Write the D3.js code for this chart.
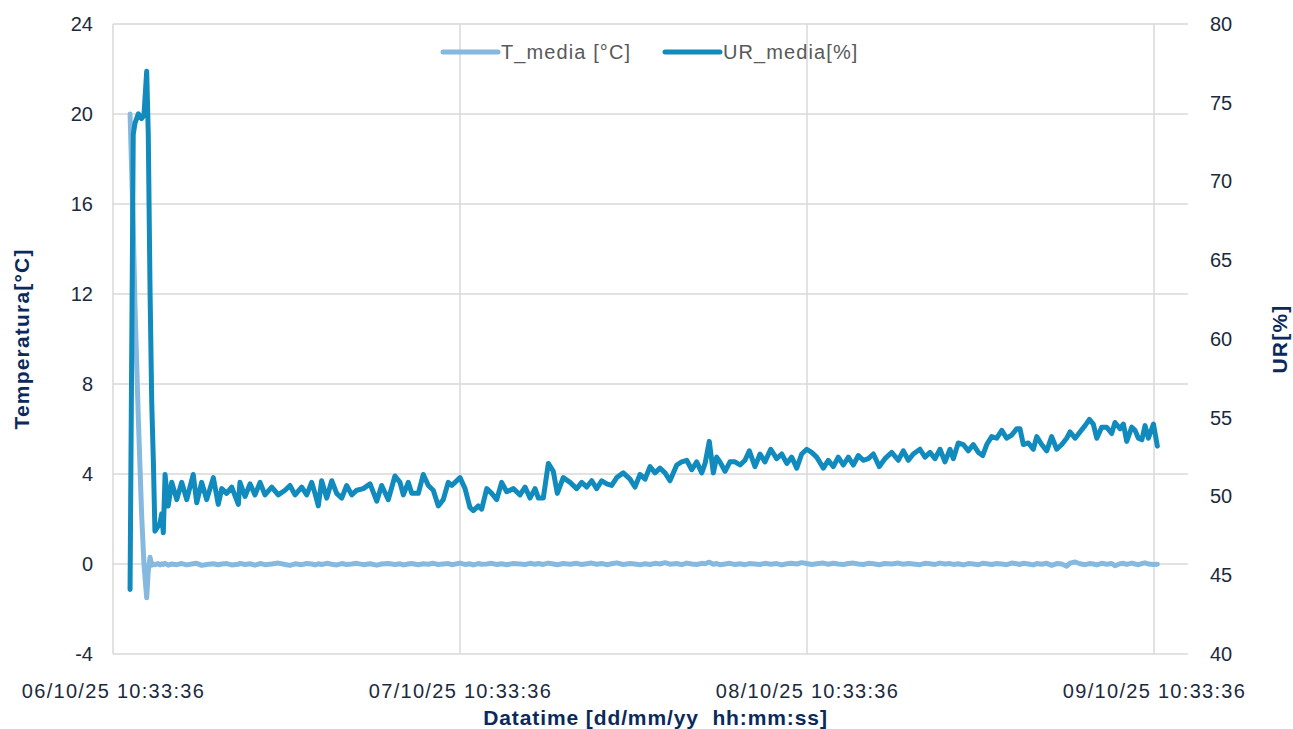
<!DOCTYPE html>
<html>
<head>
<meta charset="utf-8">
<script src="https://cdn.jsdelivr.net/npm/d3@7"></script>
<style>
  body { margin: 0; background: #fff; }
  svg { display: block; font-family: "Liberation Sans", Arial, sans-serif; }
</style>
</head>
<body>
<svg id="chart"></svg>
<script>
// start of the axis and sample times (hours after start)
const startTime = new Date(2025, 9, 6, 10, 33, 36);
const axisEndHours = 74.35;

const hours = [
  1.18,1.40,1.52,1.75,1.98,2.14,2.33,2.44,2.56,2.68,
  2.79,2.90,3.11,3.25,3.37,3.48,3.60,3.82,4.06,4.41,
  4.75,5.10,5.55,5.79,6.13,6.48,6.94,7.28,7.52,7.86,
  8.21,8.67,8.78,9.13,9.48,9.82,10.17,10.51,10.98,11.43,
  11.90,12.24,12.59,13.05,13.40,13.74,13.97,14.20,14.43,14.78,
  15.13,15.47,15.82,16.16,16.51,16.86,17.31,17.78,18.24,18.58,
  19.04,19.50,19.85,20.08,20.42,20.66,21.12,21.46,21.81,22.15,
  22.50,22.84,23.19,23.43,24.00,24.35,24.69,24.92,25.27,25.50,
  25.85,26.19,26.54,26.88,27.23,27.69,28.15,28.50,28.84,29.19,
  29.42,29.76,30.11,30.45,30.73,31.14,31.61,32.07,32.42,32.76,
  33.11,33.45,33.80,34.15,34.49,34.84,35.29,35.76,36.10,36.45,
  36.80,37.14,37.49,37.83,38.18,38.52,38.99,39.33,39.68,40.03,
  40.37,40.72,40.95,41.24,41.52,41.75,41.98,42.33,42.67,43.02,
  43.37,43.71,44.01,44.40,44.75,45.09,45.49,45.90,46.25,46.60,
  46.94,47.29,47.63,47.98,48.32,48.67,49.13,49.47,49.82,50.16,
  50.51,50.86,51.20,51.55,51.89,52.24,52.59,53.00,53.39,53.86,
  54.31,54.66,55.01,55.35,55.81,56.16,56.51,56.85,57.20,57.54,
  57.89,58.12,58.46,58.81,59.16,59.50,59.85,60.15,60.43,60.77,
  61.12,61.47,61.81,62.16,62.50,62.73,62.96,63.31,63.65,63.89,
  64.23,64.58,64.92,65.27,65.62,65.96,66.19,66.54,66.88,67.23,
  67.53,67.80,68.04,68.38,68.73,69.07,69.30,69.65,69.88,70.11,
  70.46,70.69,70.92,71.16,71.38,71.61,71.96,72.23
];

const tMedia = [
  20.0,15.0,11.5,6.5,2.2,0.0,-1.5,-0.3,0.3,-0.05,
  0.0,-0.03,0.02,-0.04,0.01,-0.02,0.03,-0.05,0.0,-0.03,
  0.02,-0.04,0.01,0.03,-0.06,-0.02,0.01,-0.03,0.0,0.02,
  -0.04,-0.01,0.03,-0.02,0.01,-0.05,0.02,-0.03,0.0,0.04,
  -0.02,-0.06,0.01,-0.03,0.02,0.0,-0.04,0.01,-0.02,0.03,
  -0.01,-0.04,0.02,-0.02,0.0,0.03,-0.03,0.01,-0.05,0.0,
  0.02,-0.02,0.01,-0.04,0.0,0.02,-0.03,0.01,-0.01,0.03,
  -0.02,0.0,0.02,-0.03,0.04,-0.02,0.01,-0.04,0.02,-0.01,
  0.0,0.03,-0.02,0.01,-0.03,0.02,0.0,-0.02,0.03,-0.01,
  0.02,-0.02,0.04,0.0,-0.03,0.02,-0.01,0.03,-0.02,0.01,
  0.04,-0.01,0.02,-0.03,0.01,0.05,-0.02,0.02,0.0,-0.03,
  0.01,-0.02,0.03,0.0,0.06,-0.01,0.02,-0.03,0.04,0.0,
  -0.02,0.03,0.01,0.08,-0.01,0.02,-0.03,0.0,0.03,-0.02,
  0.01,-0.03,0.02,0.0,-0.02,0.03,-0.01,0.02,-0.04,0.01,
  0.03,0.0,0.06,0.02,-0.02,0.01,0.04,-0.01,0.03,0.0,
  -0.02,0.02,0.04,0.0,-0.02,0.03,0.01,-0.03,0.02,0.0,
  0.04,-0.01,0.02,0.0,-0.03,0.03,0.01,-0.02,0.04,0.0,
  0.02,-0.02,0.01,-0.04,0.02,0.0,-0.03,0.03,0.01,-0.02,
  0.02,0.0,-0.03,0.04,0.01,-0.02,0.03,0.0,-0.04,0.02,
  -0.01,0.03,-0.06,0.02,0.0,-0.1,0.04,0.09,0.01,-0.03,
  0.02,0.0,-0.04,0.03,-0.01,0.02,-0.08,0.01,0.03,-0.02,
  0.04,0.0,-0.03,0.02,0.05,0.0,-0.02,-0.01
];

const urMedia = [
  44.1,73.0,73.7,74.3,74.0,74.2,77.0,73.0,63.2,55.9,
  52.3,47.8,48.1,48.3,48.9,47.7,51.4,49.4,50.9,49.8,
  50.9,49.8,51.4,49.6,50.9,49.8,51.2,49.5,50.5,50.2,
  50.6,49.5,50.9,50.0,50.8,50.1,50.9,50.1,50.6,50.1,
  50.4,50.7,50.1,50.6,50.1,50.9,50.2,49.4,51.0,49.9,
  51.0,50.2,49.9,50.7,50.1,50.4,50.5,50.8,49.7,50.7,
  49.8,51.3,50.9,50.1,50.9,50.2,50.2,51.4,50.7,50.4,
  49.4,49.8,50.9,50.7,51.2,50.5,49.3,49.1,49.4,49.2,
  50.5,50.2,49.8,50.9,50.3,50.5,50.1,50.6,49.9,50.5,
  49.9,49.9,52.1,51.6,50.2,51.2,50.9,50.5,50.9,50.6,
  51.0,50.5,51.0,50.8,50.7,51.2,51.5,51.1,50.6,51.4,
  51.1,51.9,51.5,51.8,51.5,51.0,52.0,52.2,52.3,51.7,
  52.2,51.5,52.1,53.5,51.5,52.5,52.2,51.6,52.2,52.2,
  52.0,52.3,52.9,51.9,52.7,52.2,53.0,52.4,52.7,52.1,
  52.5,51.8,52.7,53.0,52.8,52.5,51.8,52.3,51.9,52.5,
  52.0,52.5,52.0,52.6,52.3,52.4,52.7,51.9,52.4,52.8,
  52.3,52.9,52.3,52.7,53.0,52.5,52.8,52.4,53.0,52.2,
  53.0,52.4,53.4,53.3,52.9,53.3,52.8,52.6,53.3,53.8,
  53.7,54.2,53.7,53.9,54.3,54.3,53.3,53.4,53.0,53.8,
  53.3,52.9,53.8,53.0,53.3,53.7,54.1,53.7,54.1,54.5,
  54.9,54.6,53.7,54.4,54.4,54.0,54.7,54.3,54.6,53.5,
  54.4,54.2,53.7,53.6,54.5,53.7,54.6,53.2
];

const tTicks = [-4, 0, 4, 8, 12, 16, 20, 24];
const urTicks = [40, 45, 50, 55, 60, 65, 70, 75, 80];
const dayTicks = [0, 1, 2, 3];
const seriesNames = ["T_media [°C]", "UR_media[%]"];

const width = 1293, height = 729;
const margin = { top: 24, right: 105, bottom: 75, left: 113 };
const innerW = width - margin.left - margin.right;
const innerH = height - margin.top - margin.bottom;

const colorT = "#86b9e0";
const colorUR = "#118bbd";
const tickColor = "#1c2a3d";
const titleColor = "#0b2a5b";
const gridColor = "#d9d9d9";

const toDate = (h) => new Date(startTime.getTime() + h * 3600 * 1000);

const svg = d3.select("#chart").attr("width", width).attr("height", height);
const g = svg.append("g").attr("transform", `translate(${margin.left},${margin.top})`);

const x = d3.scaleTime().domain([startTime, toDate(axisEndHours)]).range([0, innerW]);
const yT = d3.scaleLinear().domain([-4, 24]).range([innerH, 0]);
const yUR = d3.scaleLinear().domain([40, 80]).range([innerH, 0]);

// horizontal grid
g.append("g")
  .selectAll("line")
  .data(tTicks)
  .join("line")
  .attr("x1", 0).attr("x2", innerW)
  .attr("y1", (d) => yT(d)).attr("y2", (d) => yT(d))
  .attr("stroke", gridColor).attr("stroke-width", 1.5);

// vertical grid on day ticks
const dayDates = dayTicks.map((d) => toDate(d * 24));
g.append("g")
  .selectAll("line")
  .data(dayDates)
  .join("line")
  .attr("x1", (d) => x(d)).attr("x2", (d) => x(d))
  .attr("y1", 0).attr("y2", innerH)
  .attr("stroke", gridColor).attr("stroke-width", 1.5);

// x axis labels
const fmt = d3.timeFormat("%d/%m/%y %H:%M:%S");
const xAxis = g.append("g")
  .attr("transform", `translate(0,${innerH})`)
  .call(d3.axisBottom(x).tickValues(dayDates).tickFormat(fmt).tickSize(0).tickPadding(30));
xAxis.select(".domain").remove();
xAxis.selectAll("text")
  .attr("fill", tickColor)
  .style("font-size", "20px")
  .style("letter-spacing", "1.3px");

// left axis (plain hyphen for negatives)
const yAxisL = g.append("g")
  .call(d3.axisLeft(yT).tickValues(tTicks).tickFormat((d) => String(d)).tickSize(0).tickPadding(20));
yAxisL.select(".domain").remove();
yAxisL.selectAll("text").attr("fill", tickColor).style("font-size", "20px");

// right axis
const yAxisR = g.append("g")
  .attr("transform", `translate(${innerW},0)`)
  .call(d3.axisRight(yUR).tickValues(urTicks).tickSize(0).tickPadding(22));
yAxisR.select(".domain").remove();
yAxisR.selectAll("text").attr("fill", tickColor).style("font-size", "20px");

// lines
const lineT = d3.line()
  .x((d, i) => x(toDate(hours[i])))
  .y((d) => yT(d));
const lineUR = d3.line()
  .x((d, i) => x(toDate(hours[i])))
  .y((d) => yUR(d));

g.append("path")
  .datum(tMedia)
  .attr("d", lineT)
  .attr("fill", "none")
  .attr("stroke", colorT)
  .attr("stroke-width", 5)
  .attr("stroke-linejoin", "round")
  .attr("stroke-linecap", "round");

g.append("path")
  .datum(urMedia)
  .attr("d", lineUR)
  .attr("fill", "none")
  .attr("stroke", colorUR)
  .attr("stroke-width", 5)
  .attr("stroke-linejoin", "round")
  .attr("stroke-linecap", "round");

// axis titles
svg.append("text")
  .attr("transform", `translate(29,${margin.top + innerH / 2}) rotate(-90)`)
  .attr("text-anchor", "middle")
  .attr("fill", titleColor)
  .style("font-size", "21px")
  .style("font-weight", "bold")
  .style("letter-spacing", "1.2px")
  .text("Temperatura[°C]");

svg.append("text")
  .attr("transform", `translate(1287,${margin.top + innerH / 2}) rotate(-90)`)
  .attr("text-anchor", "middle")
  .attr("fill", titleColor)
  .style("font-size", "21px")
  .style("font-weight", "bold")
  .style("letter-spacing", "1.2px")
  .text("UR[%]");

svg.append("text")
  .attr("x", margin.left + innerW / 2 + 5)
  .attr("y", 725)
  .attr("text-anchor", "middle")
  .attr("fill", titleColor)
  .style("font-size", "21px")
  .style("font-weight", "bold")
  .style("white-space", "pre")
  .style("letter-spacing", "0.9px")
  .text("Datatime [dd/mm/yy  hh:mm:ss]");

// legend
const legend = svg.append("g").attr("transform", "translate(443,52)");
const legendX = [0, 222];
const legendColors = [colorT, colorUR];
seriesNames.forEach((name, i) => {
  const item = legend.append("g").attr("transform", `translate(${legendX[i]},0)`);
  item.append("line")
    .attr("x1", 0).attr("x2", 55)
    .attr("stroke", legendColors[i])
    .attr("stroke-width", 5)
    .attr("stroke-linecap", "round");
  item.append("text")
    .attr("x", 58)
    .attr("dy", "0.35em")
    .attr("fill", "#595959")
    .style("font-size", "20px")
    .style("letter-spacing", "1.1px")
    .text(name);
});
</script>
</body>
</html>
